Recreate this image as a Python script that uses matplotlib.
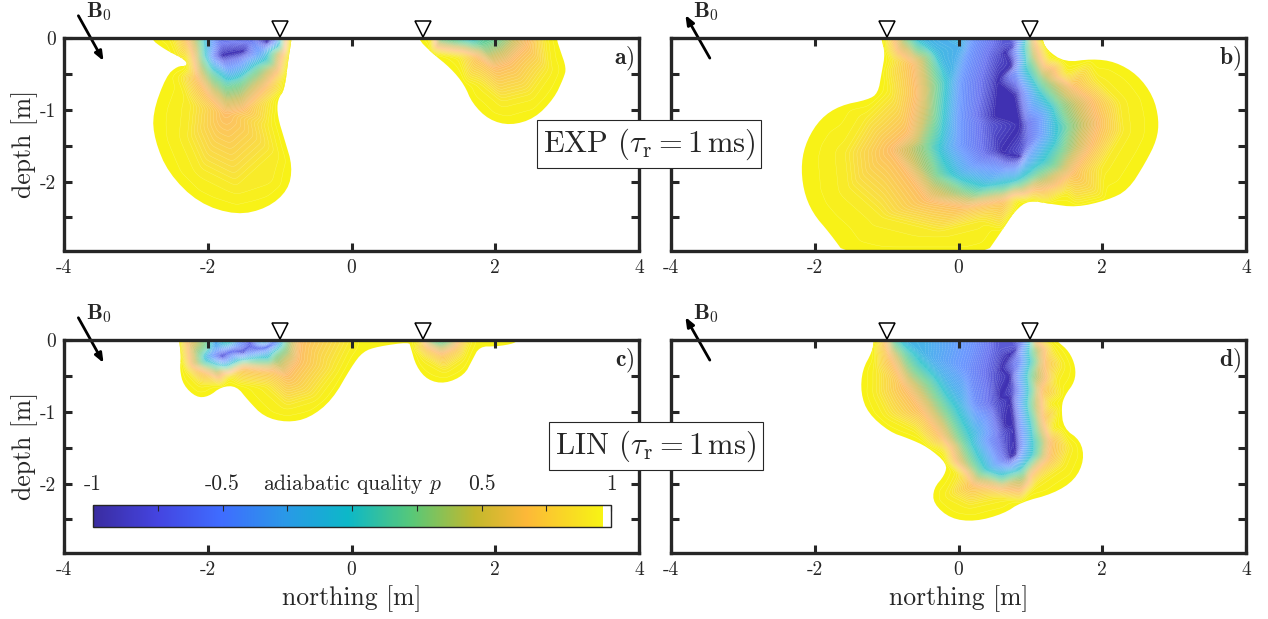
import numpy as np
import matplotlib
matplotlib.use('Agg')
import matplotlib.pyplot as plt
from matplotlib.colors import LinearSegmentedColormap, Normalize
from matplotlib.cm import ScalarMappable
from matplotlib.patches import Polygon
from matplotlib.tri import Triangulation, LinearTriInterpolator

plt.rcParams['font.family'] = ['cmr10', 'DejaVu Sans']
plt.rcParams['mathtext.fontset'] = 'cm'
plt.rcParams['axes.unicode_minus'] = False

DARK = '#262626'

# (north, depth) outlines of equal p. name says the p value
# panel a, left lobe
a1_edge = [(-2.81,0),(-2.6,-.16),(-2.3,-.31),(-2.29,-.39),(-2.42,-.39),(-2.58,-.53),(-2.77,-1.05),(-2.74,-1.42),(-2.55,-1.88),(-2.13,-2.30),(-1.6,-2.47),(-1.17,-2.37),(-.88,-2.12),(-.82,-1.79),(-.93,-1.42),(-1.03,-1.09),(-1.03,-.86),(-.93,-.72),(-.88,-.30),(-.83,0)]
a1_p95 = [(-2.5,0),(-2.38,-.3),(-2.38,-.55),(-2.25,-.9),(-2.3,-1.4),(-2.1,-1.85),(-1.6,-2.1),(-1.15,-1.95),(-1.05,-1.6),(-1.15,-1.2),(-1.1,-.85),(-.95,-.55),(-.9,-.2),(-.87,0)]
a1_p70 = [(-2.3,0),(-2.2,-.3),(-2.15,-.55),(-1.95,-.85),(-1.75,-1.05),(-1.5,-1.0),(-1.2,-.7),(-1.0,-.45),(-.92,-.2),(-.89,0)]
a1_p20 = [(-2.1,0),(-2.08,-.25),(-1.95,-.5),(-1.75,-.67),(-1.55,-.62),(-1.3,-.42),(-1.1,-.2),(-.97,0)]
a1_n30 = [(-2.0,0),(-1.98,-.2),(-1.85,-.4),(-1.7,-.5),(-1.5,-.42),(-1.25,-.25),(-1.02,0)]
a1_n70 = [(-1.92,-.25),(-1.8,-.36),(-1.55,-.3),(-1.2,-.12),(-1.05,-.02),(-1.4,-.02),(-1.85,-.05)]
a1_n100 = [(-1.8,-.25),(-1.5,-.19),(-1.17,-.08)]
# panel a, right lobe
a2_edge = [(.91,0),(1.12,-.21),(1.38,-.42),(1.57,-.65),(1.68,-.91),(1.91,-1.14),(2.21,-1.22),(2.55,-1.12),(2.82,-.84),(2.95,-.56),(2.99,-.42),(2.9,-.16),(2.85,0)]
a2_p95 = [(1.1,0),(1.5,-.25),(1.8,-.65),(2.1,-.9),(2.5,-.8),(2.75,-.45),(2.7,0)]
a2_p70 = [(1.17,0),(1.75,-.25),(2.0,-.42),(2.2,-.35),(2.45,-.1),(2.5,0)]
a2_p20 = [(1.2,0),(1.45,-.05),(1.8,-.09),(2.0,0)]
a2_n10 = [(1.65,0)]
# panel b
b_edge = [(-1.08,0),(-1.02,-.21),(-1.07,-.49),(-1.12,-.77),(-1.26,-.86),(-1.65,-.94),(-1.92,-1.12),(-2.11,-1.42),(-2.19,-1.74),(-2.16,-2.12),(-2.03,-2.44),(-1.79,-2.72),(-1.55,-3.05),(.35,-3.05),(.58,-2.72),(.79,-2.40),(.98,-2.26),(1.27,-2.31),(1.64,-2.36),(2.07,-2.26),(2.36,-2.12),(2.6,-1.74),(2.76,-1.42),(2.79,-1.14),(2.71,-.81),(2.49,-.51),(2.18,-.33),(1.86,-.29),(1.48,-.34),(1.22,-.16),(1.16,0)]
b_p95 = [(-1.0,0),(-.93,-.3),(-.95,-.75),(-1.3,-1.1),(-1.6,-1.6),(-1.55,-2.1),(-1.1,-2.5),(-.3,-2.7),(.3,-2.55),(.8,-2.25),(1.5,-2.15),(2.0,-1.8),(2.3,-1.3),(2.25,-.9),(1.95,-.6),(1.5,-.5),(1.25,-.3),(1.1,0)]
b_p70 = [(-.91,0),(-.64,-.35),(-.59,-.77),(-.7,-1.33),(-.95,-1.55),(-.43,-2.26),(.1,-2.35),(.63,-2.26),(1.16,-2.12),(1.59,-1.88),(1.85,-1.51),(1.96,-1.19),(1.85,-.86),(1.59,-.67),(1.32,-.4),(1.06,0)]
b_p30 = [(-.75,0),(-.43,-.26),(-.33,-.67),(-.35,-1.09),(-.48,-1.51),(-.33,-1.93),(.1,-2.16),(.63,-2.14),(1.11,-1.93),(1.48,-1.56),(1.56,-1.23),(1.43,-.91),(1.16,-.58),(1.0,-.26),(.98,0)]
b_n15 = [(-.55,0),(-.3,-.2),(-.12,-.6),(-.15,-1.1),(-.2,-1.55),(0,-1.9),(.4,-2.02),(.8,-1.95),(1.1,-1.7),(1.3,-1.4),(1.3,-1.15),(1.1,-.8),(.9,-.45),(.88,-.15),(.93,0)]
b_n10 = [(0,0)]
b_n25 = [(-.25,0),(.05,-.15),(-.02,-.3)]
b_n50 = [(.18,0),(.12,-.2),(.02,-.6),(0,-1.1),(0,-1.5),(.2,-1.78),(.6,-1.85),(.95,-1.65),(1.15,-1.35),(1.15,-1.1),(.95,-.75),(.82,-.45),(.82,-.15),(.85,0)]
b_n85 = [(.5,-.25),(.42,-.6),(.42,-1.2),(.45,-1.6),(.7,-1.72),(.9,-1.6),(.92,-1.2),(.85,-.75),(.78,-.3),(.75,-.08),(.6,-.1)]
b_n100 = [(.65,-.2),(.55,-.6),(.5,-1.1),(.6,-1.6),(.88,-1.65),(.88,-1.2),(.8,-.8),(.75,-.4),(.78,-.12)]
# panel c
c_edge = [(-2.4,0),(-2.37,-.23),(-2.39,-.41),(-2.34,-.63),(-2.16,-.8),(-1.99,-.79),(-1.81,-.65),(-1.6,-.64),(-1.44,-.84),(-1.22,-1.07),(-.9,-1.15),(-.59,-1.09),(-.27,-.84),(0,-.37),(.16,-.16),(.37,-.09),(.8,-.03),(.82,-.09),(.9,-.37),(1.06,-.56),(1.3,-.61),(1.57,-.49),(1.68,-.28),(1.78,-.09),(2.02,-.09),(2.26,-.05),(2.31,0)]
c_p95 = [(-2.32,0),(-2.3,-.4),(-2.1,-.62),(-1.7,-.5),(-1.2,-.65),(-.9,-.92),(-.5,-.8),(-.2,-.4),(0,0),(.95,0),(1.0,-.25),(1.3,-.42),(1.55,-.25),(1.65,0)]
c_p70 = [(-2.3,-.02),(-2.25,-.35),(-2.0,-.46),(-1.5,-.37),(-1.1,-.42),(-.9,-.5),(-.75,-.3),(-.72,0),(1.0,-.01),(1.05,-.1),(1.25,-.2),(1.45,-.1),(1.5,0)]
c_p20 = [(-2.1,-.2),(-2.08,-.33),(-1.9,-.38),(-1.5,-.3),(-1.1,-.22),(-.95,-.1),(-.93,0),(-1.2,0),(-1.7,-.02),(-2.0,-.1),(1.1,0),(1.2,-.03),(1.35,0)]
c_n40 = [(-2.0,-.22),(-1.85,-.3),(-1.5,-.24),(-1.15,-.16),(-1.0,-.05),(-1.1,-.01),(-1.6,-.05),(-1.9,-.12)]
c_n85 = [(-1.85,-.25),(-1.5,-.2),(-1.2,-.11),(-1.1,-.04),(-1.4,-.08),(-1.75,-.17)]
c_n100 = [(-1.8,-.24),(-1.5,-.18),(-1.17,-.08)]
# panel d
d_edge = [(-1.18,0),(-1.2,-.16),(-1.34,-.42),(-1.36,-.74),(-1.26,-1.02),(-.96,-1.28),(-.7,-1.37),(-.43,-1.49),(-.16,-1.72),(-.19,-1.88),(-.35,-2.07),(-.35,-2.28),(-.11,-2.49),(.23,-2.53),(.63,-2.42),(.87,-2.26),(1.32,-2.14),(1.62,-1.95),(1.75,-1.67),(1.7,-1.4),(1.46,-1.23),(1.43,-.93),(1.48,-.77),(1.62,-.58),(1.63,-.37),(1.54,-.16),(1.38,-.02),(1.35,0)]
d_p95 = [(-1.1,0),(-1.15,-.4),(-1.15,-.75),(-1,-1.05),(-.6,-1.25),(-.2,-1.55),(0,-1.85),(-.15,-2.15),(.15,-2.3),(.6,-2.2),(1.05,-2.03),(1.45,-1.75),(1.55,-1.5),(1.3,-1.25),(1.25,-.9),(1.35,-.55),(1.45,-.35),(1.3,-.1),(1.2,0)]
d_p70 = [(-1.02,0),(-.95,-.25),(-.75,-.65),(-.5,-1.0),(-.25,-1.35),(-.05,-1.7),(.2,-2.02),(.6,-2.08),(1.0,-1.9),(1.25,-1.65),(1.28,-1.4),(1.18,-1.1),(1.15,-.7),(1.2,-.3),(1.08,0)]
d_p20 = [(-.92,0),(-.75,-.2),(-.4,-.6),(-.15,-1.0),(.08,-1.45),(.3,-1.85),(.6,-1.95),(.9,-1.85),(1.1,-1.6),(1.08,-1.3),(1.0,-.9),(1.0,-.5),(1.02,-.15),(1.02,0)]
d_n20 = [(-.75,0),(-.5,-.2),(-.2,-.55),(.05,-.9),(.25,-1.3),(.4,-1.7),(.65,-1.82),(.9,-1.7),(.98,-1.45),(.94,-1.1),(.93,-.7),(.95,-.3),(.97,0)]
d_n55 = [(.2,-.05),(.1,-.4),(.2,-.9),(.4,-1.4),(.55,-1.72),(.7,-1.76),(.85,-1.6),(.88,-1.2),(.86,-.7),(.88,-.3),(.92,0)]
d_n85 = [(.55,-.15),(.48,-.5),(.5,-.9),(.6,-1.3),(.68,-1.66),(.8,-1.6),(.8,-1.2),(.78,-.7),(.8,-.2),(.78,-.1)]
d_n100 = [(.72,-.2),(.6,-.4),(.58,-.8),(.65,-1.2),(.72,-1.65),(.8,-1.6),(.78,-1.2),(.73,-.8),(.72,-.5),(.8,-.13)]

xticks = [-4, -2, 0, 2, 4]
xlabels = ['-4', '-2', '0', '2', '4']
yticks = [0, -0.5, -1, -1.5, -2, -2.5]
ylabels = ['0', '', '-1', '', '-2', '']
receivers = [-1, 1]
panel_names = ['a)', 'b)', 'c)', 'd)']
cbar_ticks = [-1, -.75, -.5, -.25, 0, .25, .5, .75, 1]

cmap_pos = [0, .125, .25, .375, .5, .625, .75, .85, .95, 1]
cmap_col = ['#3A2CA0', '#4444E0', '#3F6CFF', '#2A98E8', '#0CB8C8', '#58C878', '#C4B82C', '#FDB838', '#F8E020', '#F8F414']
# the field looks paler than the bar, its white contour lines sit close together
field_col = ['#3E2FB0', '#6E78F0', '#6C9AFF', '#50B0EE', '#2CC4CC', '#70D090', '#D0C060', '#FDBC68', '#F9E040', '#F8F414']
parula = LinearSegmentedColormap.from_list('parula', list(zip(cmap_pos, field_col)), N=256)
bar_cmap = LinearSegmentedColormap.from_list('parula_bar', list(zip(
    [p * .985 for p in cmap_pos] + [.985, 1], cmap_col + ['#FFFFFF', '#FFFFFF'])), N=512)

panels = {
    'a': [[(1, a1_edge), (.95, a1_p95), (.7, a1_p70), (.2, a1_p20), (-.3, a1_n30), (-.7, a1_n70), (-1, a1_n100)],
          [(1, a2_edge), (.95, a2_p95), (.7, a2_p70), (.2, a2_p20), (-.1, a2_n10)]],
    'b': [[(1, b_edge), (.95, b_p95), (.7, b_p70), (.3, b_p30), (-.15, b_n15), (-.1, b_n10), (-.25, b_n25), (-.5, b_n50), (-.85, b_n85), (-1, b_n100)]],
    'c': [[(1, c_edge), (.95, c_p95), (.7, c_p70), (.2, c_p20), (-.4, c_n40), (-.85, c_n85), (-1, c_n100)]],
    'd': [[(1, d_edge), (.95, d_p95), (.7, d_p70), (.2, d_p20), (-.2, d_n20), (-.55, d_n55), (-.85, d_n85), (-1, d_n100)]],
}


def chaikin(pts, n=2):
    # round off the corners of a closed outline
    pts = np.array(pts, float)
    for i in range(n):
        nxt = np.roll(pts, -1, axis=0)
        pts = np.column_stack((0.75 * pts + 0.25 * nxt, 0.25 * pts + 0.75 * nxt)).reshape(-1, 2)
    return pts


def soften(z, n=17):
    k = np.hanning(n + 2)[1:-1]
    k = k / k.sum()
    z = np.apply_along_axis(lambda v: np.convolve(np.pad(v, n // 2, mode='edge'), k, mode='valid'), 0, z)
    z = np.apply_along_axis(lambda v: np.convolve(np.pad(v, n // 2, mode='edge'), k, mode='valid'), 1, z)
    return z


def draw_lobe(ax, rings):
    xs, ds, ps = [], [], []
    for p, ring in rings:
        for x, d in ring:
            xs.append(x)
            ds.append(d)
            ps.append(p)
            if d < 0:
                # mirror over the surface so the field does not break at depth 0
                xs.append(x)
                ds.append(-d)
                ps.append(p)
    tri = Triangulation(xs, ds)
    gx = np.arange(-4.2, 4.2, .01)
    gd = np.arange(-3.2, .4, .01)
    X, D = np.meshgrid(gx, gd)
    raw = np.ma.filled(LinearTriInterpolator(tri, np.array(ps, float))(X, D), 1.0)
    soft = soften(raw)
    # keep the darkest core sharp, it is a hard streak in the picture
    z = np.where(raw < -.95, raw, soft)
    levels = np.linspace(-1, 1.0001, 101)
    edge = rings[0][1]
    outline = [(edge[0][0], .25)] + edge + [(edge[-1][0], .25)]
    clip = Polygon(chaikin(outline), transform=ax.transData, fc='none', ec='none')
    ax.add_patch(clip)
    cf = ax.contourf(X, D, z, levels=levels, cmap=parula, norm=Normalize(-1, 1), zorder=1)
    cl = ax.contour(X, D, soft, levels=levels[1:-1], colors='white', linewidths=.25, alpha=.4, zorder=2)
    cf.set_clip_path(clip)
    cl.set_clip_path(clip)


fig = plt.figure(figsize=(12.68, 6.19), dpi=100)
W, H = 1268., 619.
boxes = {'a': (64, 38), 'b': (671, 38), 'c': (64, 340), 'd': (671, 340)}
for name, label in zip('abcd', panel_names):
    x0, y0 = boxes[name]
    ax = fig.add_axes([x0 / W, 1 - (y0 + 212.5) / H, 575 / W, 212.5 / H])
    for rings in panels[name]:
        draw_lobe(ax, rings)
    ax.set_xlim(-4, 4)
    ax.set_ylim(-2.96, 0)
    ax.set_xticks(xticks)
    ax.set_xticklabels(xlabels)
    ax.set_yticks(yticks)
    ax.set_yticklabels(ylabels if name in 'ac' else [''] * 6)
    ax.tick_params(direction='in', top=True, right=True, length=5.5, width=2.2, color=DARK,
                   labelcolor=DARK, labelsize=14, pad=6)
    ax.set_axisbelow(False)
    for s in ax.spines.values():
        s.set_linewidth(2.4)
        s.set_color(DARK)
        s.set_zorder(5)
    # receiver marks on top of the frame
    ax.plot(receivers, [.125, .125], 'v', ms=11, mfc='white', mec='black', mew=1.1, clip_on=False, zorder=6)
    # magnetic field direction
    if name in 'ac':
        ax.annotate('', xy=(-3.45, -.32), xytext=(-3.8, .31), annotation_clip=False,
                    arrowprops=dict(arrowstyle='-|>,head_width=.22,head_length=.55', color='black', lw=2, shrinkA=0, shrinkB=0))
    else:
        ax.annotate('', xy=(-3.8, .32), xytext=(-3.46, -.28), annotation_clip=False,
                    arrowprops=dict(arrowstyle='-|>,head_width=.22,head_length=.55', color='black', lw=2, shrinkA=0, shrinkB=0))
    ax.text(-3.69, .37, r'$\mathbf{B}_0$', fontsize=16, va='center', ha='left', color=DARK, clip_on=False)
    ax.text(3.93, -.29, r'$\mathbf{%s}$' % label, fontsize=17, va='center', ha='right', color=DARK)
    if name in 'ac':
        ax.set_ylabel('depth [m]', fontsize=18.5, color=DARK, labelpad=1)
    if name in 'cd':
        ax.set_xlabel('northing [m]', fontsize=18.5, color=DARK, labelpad=5)
    if name == 'c':
        cax = fig.add_axes([93 / W, 1 - 527 / H, 518 / W, 22 / H], zorder=8)
        cb = fig.colorbar(ScalarMappable(Normalize(-1, 1), bar_cmap), cax=cax, orientation='horizontal')
        cb.set_ticks(cbar_ticks)
        cax.tick_params(direction='in', top=True, bottom=False, labelbottom=False, labeltop=False,
                        length=4, width=.8, color=DARK)
        cb.outline.set_linewidth(1)
        cb.outline.set_edgecolor(DARK)
        for v, txt in [(-1, '-1'), (-.5, '-0.5'), (.5, '0.5'), (1, '1')]:
            cax.text(v, 1.95, txt, fontsize=15.5, ha='center', va='center', color=DARK,
                     transform=cax.get_xaxis_transform())
        cax.text(0, 1.95, r'adiabatic quality $p$', fontsize=15.5, ha='center', va='center', color=DARK,
                 transform=cax.get_xaxis_transform())

box = dict(boxstyle='square,pad=0.2', fc='white', ec=DARK, lw=.8)
fig.text(649 / W, 1 - 144 / H, r'EXP ($\tau_\mathrm{r}=1\,\mathrm{ms}$)', fontsize=22, ha='center', va='center', color=DARK, bbox=box, zorder=10)
fig.text(656 / W, 1 - 446 / H, r'LIN ($\tau_\mathrm{r}=1\,\mathrm{ms}$)', fontsize=22, ha='center', va='center', color=DARK, bbox=box, zorder=10)

fig.savefig('out.png', dpi=100)
